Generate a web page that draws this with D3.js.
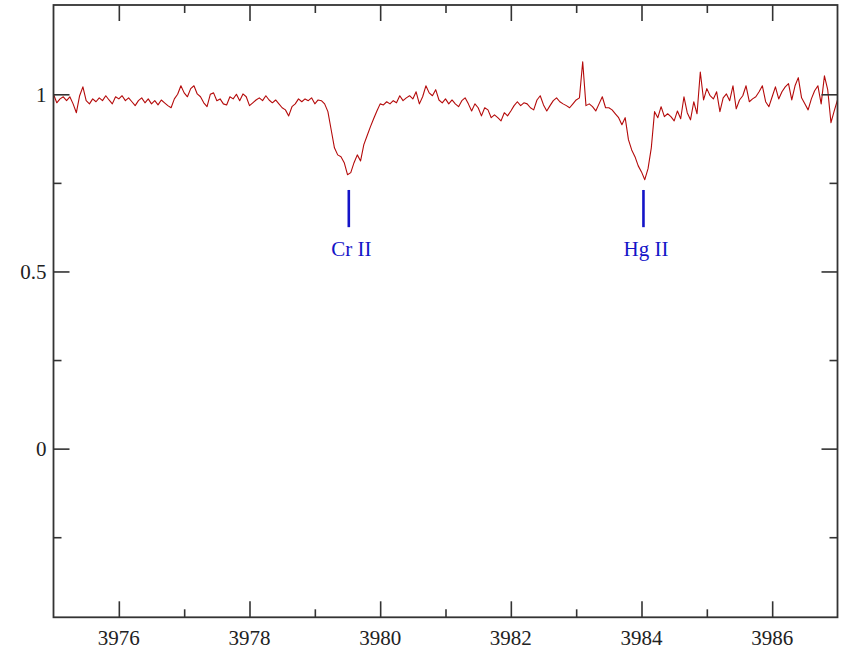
<!DOCTYPE html>
<html>
<head>
<meta charset="utf-8">
<script src="https://cdn.jsdelivr.net/npm/d3@7"></script>
<style>
  html, body { margin: 0; padding: 0; background: #ffffff; }
  svg { display: block; }
  text { font-family: "Liberation Serif", "DejaVu Serif", serif; }
</style>
</head>
<body>
<div id="chart"></div>
<script>
// Normalised stellar spectrum, sampled every 0.05 Å from 3975.00 Å
const wavelengthStart = 3975.0;
const wavelengthStep = 0.05;
const flux = [
  1.000, 0.976, 0.987, 0.993, 0.982, 0.993, 0.973, 0.948, 0.996, 1.021,
  0.982, 0.973, 0.987, 0.979, 0.990, 0.982, 0.996, 0.984, 0.973, 0.993,
  0.987, 0.996, 0.982, 0.990, 0.979, 0.968, 0.982, 0.990, 0.976, 0.987,
  0.973, 0.982, 0.970, 0.984, 0.976, 0.968, 0.962, 0.987, 1.000, 1.024,
  1.004, 0.993, 1.016, 1.024, 1.001, 0.993, 0.976, 0.965, 1.000, 1.004,
  0.982, 0.987, 0.973, 0.970, 0.993, 0.987, 1.000, 0.982, 1.001, 0.993,
  0.968, 0.976, 0.984, 0.990, 0.982, 0.996, 0.984, 0.976, 0.984, 0.973,
  0.962, 0.956, 0.939, 0.965, 0.973, 0.987, 0.979, 0.987, 0.982, 0.990,
  0.973, 0.984, 0.982, 0.973, 0.951, 0.900, 0.849, 0.829, 0.824, 0.807,
  0.773, 0.779, 0.807, 0.829, 0.812, 0.858, 0.883, 0.908, 0.931, 0.953,
  0.973, 0.970, 0.979, 0.973, 0.982, 0.976, 0.996, 0.982, 0.990, 0.996,
  0.987, 1.007, 0.973, 0.993, 1.024, 1.004, 0.996, 1.013, 0.984, 0.976,
  0.987, 0.973, 0.984, 0.973, 0.965, 0.982, 0.990, 0.973, 0.953, 0.973,
  0.962, 0.939, 0.962, 0.956, 0.934, 0.942, 0.934, 0.925, 0.948, 0.939,
  0.953, 0.968, 0.979, 0.968, 0.976, 0.973, 0.962, 0.956, 0.984, 0.996,
  0.970, 0.953, 0.968, 0.982, 0.990, 0.979, 0.973, 0.968, 0.962, 0.973,
  0.984, 0.990, 1.092, 0.968, 0.973, 0.965, 0.953, 0.973, 0.993, 0.962,
  0.962, 0.956, 0.945, 0.934, 0.914, 0.934, 0.872, 0.843, 0.824, 0.798,
  0.781, 0.759, 0.790, 0.849, 0.951, 0.934, 0.965, 0.937, 0.945, 0.937,
  0.925, 0.953, 0.931, 0.993, 0.948, 0.928, 0.979, 0.945, 1.063, 0.984,
  1.016, 0.996, 0.987, 1.007, 0.951, 0.990, 1.001, 0.982, 1.024, 0.959,
  0.984, 0.996, 1.024, 0.979, 0.987, 0.993, 1.007, 1.024, 0.979, 0.965,
  0.993, 1.021, 0.987, 1.007, 1.021, 1.030, 0.984, 1.024, 1.047, 0.990,
  0.973, 0.956, 0.987, 1.010, 1.024, 0.973, 1.052, 1.013, 0.920, 0.953,
  0.984
];

// Identified absorption lines
const lineNames = ["Cr II", "Hg II"];
const lineWavelengths = [3979.52, 3984.03];
const markerTop = 0.73;
const markerBottom = 0.625;
const labelFlux = 0.544;

// Axis ticks
const xMajorTicks = [3976, 3978, 3980, 3982, 3984, 3986];
const xMinorTicks = [3977, 3979, 3981, 3983, 3985];
const yMajorTicks = [0, 0.5, 1];
const yMinorTicks = [-0.25, 0.25, 0.75];

const xDomain = [3975, 3987];
const yDomain = [-0.476, 1.252];

const W = 850, H = 652;
const frame = { left: 53.5, right: 837.5, top: 5, bottom: 617.3 };

const spectrum = flux.map((f, i) => ({ w: wavelengthStart + i * wavelengthStep, f }));

const x = d3.scaleLinear().domain(xDomain).range([frame.left, frame.right]);
const y = d3.scaleLinear().domain(yDomain).range([frame.bottom, frame.top]);

const svg = d3.select("#chart").append("svg")
  .attr("width", W).attr("height", H);

const axisColor = "#333333";
const majorLen = 16, minorLen = 8;

// Spectrum trace, clipped to the frame
svg.append("clipPath").attr("id", "plot-clip")
  .append("rect")
  .attr("x", frame.left).attr("y", frame.top)
  .attr("width", frame.right - frame.left).attr("height", frame.bottom - frame.top);

svg.append("path")
  .datum(spectrum)
  .attr("clip-path", "url(#plot-clip)")
  .attr("fill", "none")
  .attr("stroke", "#b40a0a")
  .attr("stroke-width", 1.1)
  .attr("stroke-linejoin", "round")
  .attr("d", d3.line().x(d => x(d.w)).y(d => y(d.f)));

// Axes: inward ticks on all four sides
const bottomAxis = d3.axisBottom(x).tickValues(xMajorTicks).tickSize(-majorLen).tickFormat("");
const bottomMinor = d3.axisBottom(x).tickValues(xMinorTicks).tickSize(-minorLen).tickFormat("");
const topAxis = d3.axisTop(x).tickValues(xMajorTicks).tickSize(-majorLen).tickFormat("");
const topMinor = d3.axisTop(x).tickValues(xMinorTicks).tickSize(-minorLen).tickFormat("");
const leftAxis = d3.axisLeft(y).tickValues(yMajorTicks).tickSize(-majorLen).tickFormat("");
const leftMinor = d3.axisLeft(y).tickValues(yMinorTicks).tickSize(-minorLen).tickFormat("");
const rightAxis = d3.axisRight(y).tickValues(yMajorTicks).tickSize(-majorLen).tickFormat("");
const rightMinor = d3.axisRight(y).tickValues(yMinorTicks).tickSize(-minorLen).tickFormat("");

function styleAxis(g) {
  g.select(".domain").remove();
  g.selectAll(".tick line").attr("stroke", axisColor).attr("stroke-width", 1.6);
}

svg.append("g").attr("transform", `translate(0,${frame.bottom})`).call(bottomAxis).call(styleAxis);
svg.append("g").attr("transform", `translate(0,${frame.bottom})`).call(bottomMinor).call(styleAxis);
svg.append("g").attr("transform", `translate(0,${frame.top})`).call(topAxis).call(styleAxis);
svg.append("g").attr("transform", `translate(0,${frame.top})`).call(topMinor).call(styleAxis);
svg.append("g").attr("transform", `translate(${frame.left},0)`).call(leftAxis).call(styleAxis);
svg.append("g").attr("transform", `translate(${frame.left},0)`).call(leftMinor).call(styleAxis);
svg.append("g").attr("transform", `translate(${frame.right},0)`).call(rightAxis).call(styleAxis);
svg.append("g").attr("transform", `translate(${frame.right},0)`).call(rightMinor).call(styleAxis);

// Frame
svg.append("rect")
  .attr("x", frame.left).attr("y", frame.top)
  .attr("width", frame.right - frame.left).attr("height", frame.bottom - frame.top)
  .attr("fill", "none").attr("stroke", axisColor).attr("stroke-width", 1.8);

// Tick labels
svg.append("g").selectAll("text")
  .data(xMajorTicks).join("text")
  .attr("x", d => x(d)).attr("y", 645)
  .attr("text-anchor", "middle")
  .attr("font-size", 21).attr("fill", "#222")
  .text(d => d);

svg.append("g").selectAll("text")
  .data(yMajorTicks).join("text")
  .attr("x", 46.5).attr("y", d => y(d)).attr("dy", "0.35em")
  .attr("text-anchor", "end")
  .attr("font-size", 21).attr("fill", "#222")
  .text(d => d3.format("~g")(d));

// Line identifications
const lineColor = "#1414c8";
svg.append("g").selectAll("line")
  .data(lineWavelengths).join("line")
  .attr("x1", d => x(d)).attr("x2", d => x(d))
  .attr("y1", y(markerTop)).attr("y2", y(markerBottom))
  .attr("stroke", lineColor).attr("stroke-width", 2.6);

svg.append("g").selectAll("text")
  .data(lineNames).join("text")
  .attr("x", (d, i) => x(lineWavelengths[i]) + 2.5)
  .attr("y", y(labelFlux))
  .attr("text-anchor", "middle")
  .attr("font-size", 21).attr("fill", lineColor)
  .text(d => d);
</script>
</body>
</html>
